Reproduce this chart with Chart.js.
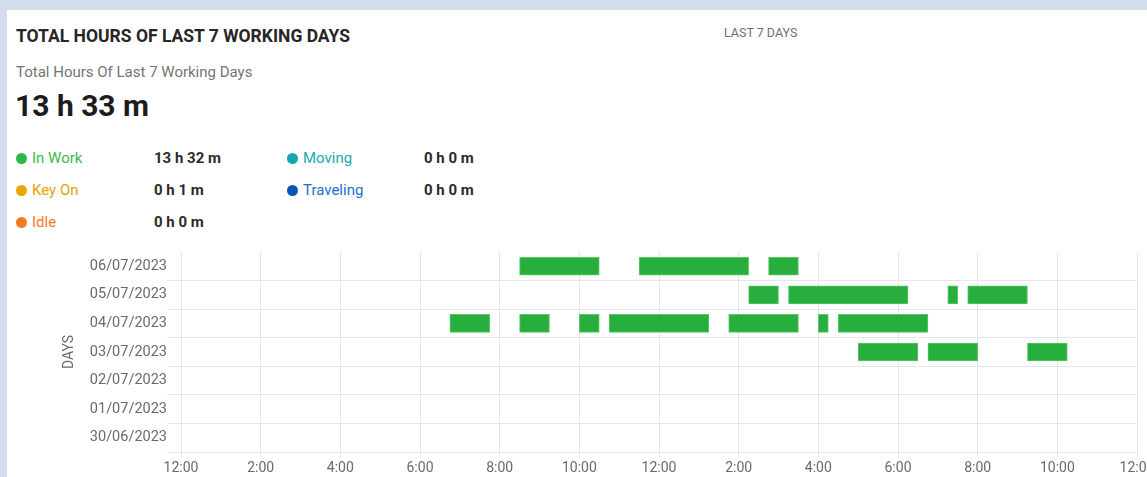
<!DOCTYPE html>
<html>
<head>
<meta charset="utf-8">
<script src="https://cdn.jsdelivr.net/npm/chart.js@4/dist/chart.umd.min.js"></script>
<style>
  html, body { margin: 0; padding: 0; }
  body {
    width: 1147px; height: 477px; overflow: hidden; position: relative;
    background: #d3deed; font-family: Roboto, "Open Sans", sans-serif;
  }
  .card { position: absolute; left: 7px; top: 10px; width: 1160px; height: 480px; background: #fff; }
  .t { position: absolute; white-space: nowrap; }
  .title { left: 16px; top: 26px; font-size: 17.5px; font-weight: 700; color: #262626; }
  .range { left: 724px; top: 25px; font-size: 12.5px; color: #6f6f6f; }
  .sub { left: 16px; top: 63px; font-size: 15px; color: #757575; }
  .total { left: 15px; top: 88px; font-size: 30px; font-weight: 700; color: #1c1c1c; }
  .lg { font-size: 15px; }
  .lg .dot { display: inline-block; width: 11px; height: 11px; border-radius: 50%; margin-right: 5px; vertical-align: -1px; }
  .val { font-size: 15px; font-weight: 700; color: #2b2b2b; }
  #wrap { position: absolute; left: 0; top: 240px; width: 1160px; height: 250px; }
</style>
</head>
<body>
<div class="card"></div>
<div class="t title">TOTAL HOURS OF LAST 7 WORKING DAYS</div>
<div class="t range">LAST 7 DAYS</div>
<div class="t sub">Total Hours Of Last 7 Working Days</div>
<div class="t total">13 h 33 m</div>
<div id="legend"></div>
<div id="wrap"><canvas id="chart"></canvas></div>
<script>
// --- DATOS ---
const days = ['06/07/2023', '05/07/2023', '04/07/2023', '03/07/2023', '02/07/2023', '01/07/2023', '30/06/2023'];
// tramos "In Work" por día, en horas desde medianoche [inicio, fin]
const work0607 = [[8.5, 10.5], [11.5, 14.25], [14.75, 15.5]];
const work0507 = [[14.25, 15], [15.25, 18.25], [19.25, 19.5], [19.75, 21.25]];
const work0407 = [[6.75, 7.75], [8.5, 9.25], [10, 10.5], [10.75, 13.25], [13.75, 15.5], [16, 16.25], [16.5, 18.75]];
const work0307 = [[17, 18.5], [18.75, 20], [21.25, 22.25]];
const work0207 = [];
const work0107 = [];
const work3006 = [];

const legendNames = ['In Work', 'Key On', 'Idle', 'Moving', 'Traveling'];
const legendValues = ['13 h 32 m', '0 h 1 m', '0 h 0 m', '0 h 0 m', '0 h 0 m'];
const legendColors = ['#2db84a', '#e9a500', '#f47a22', '#17a8ad', '#0b55b3'];
const legendText = ['#3dba4e', '#e8a300', '#f47a22', '#1aaab0', '#1d6fcc'];

// --- LEYENDA ---
const legendPos = [[16, 154, 159], [16, 154, 191], [16, 154, 223], [287, 424, 159], [287, 424, 191]];
const legendDiv = document.getElementById('legend');
legendNames.forEach((name, i) => {
  const [xl, xv, yc] = legendPos[i];
  legendDiv.innerHTML += `
    <div class="t lg" style="left:${xl}px;top:${yc - 10}px;color:${legendText[i]}"><span class="dot" style="background:${legendColors[i]}"></span>${name}</div>
    <div class="t val" style="left:${xv}px;top:${yc - 10}px">${legendValues[i]}</div>`;
});

// --- BARRAS ---
const porDia = [work0607, work0507, work0407, work0307, work0207, work0107, work3006];
const puntos = [];
porDia.forEach((tramos, d) => {
  tramos.forEach(([ini, fin]) => puntos.push({ y: days[d], x: [ini, fin] }));
});

new Chart(document.getElementById('chart'), {
  type: 'bar',
  data: {
    labels: days,
    datasets: [{
      label: 'In Work',
      data: puntos,
      backgroundColor: '#27ae3d',
      borderColor: '#5cc66c',
      borderWidth: 1,
      borderSkipped: false,
      barThickness: 18,
      grouped: false
    }]
  },
  options: {
    indexAxis: 'y',
    responsive: true,
    maintainAspectRatio: false,
    animation: false,
    layout: { padding: { left: 55, top: 12, right: 23, bottom: 0 } },
    plugins: { legend: { display: false }, tooltip: { enabled: false } },
    scales: {
      x: {
        type: 'linear', min: 0, max: 24,
        ticks: {
          stepSize: 2, color: '#6a6a6a', padding: 3,
          font: { family: 'Roboto', size: 14 },
          callback: v => (v % 12 === 0 ? 12 : v % 12) + ':00'
        },
        grid: { color: '#e6e6e6', tickLength: 5 },
        border: { color: '#e6e6e6' },
        afterFit: s => { s.height = 38; }
      },
      y: {
        ticks: { color: '#6a6a6a', padding: 0, font: { family: 'Roboto', size: 14.5 } },
        grid: { color: c => (c.index === 0 ? 'rgba(0,0,0,0)' : '#e6e6e6'), tickLength: 14, offset: true },
        border: { color: '#e6e6e6' },
        title: { display: true, text: 'DAYS', color: '#6a6a6a', padding: { top: 6, bottom: 0 }, font: { family: 'Roboto', size: 14 } },
        afterFit: s => { s.width = 126; }
      }
    }
  }
});
</script>
</body>
</html>
